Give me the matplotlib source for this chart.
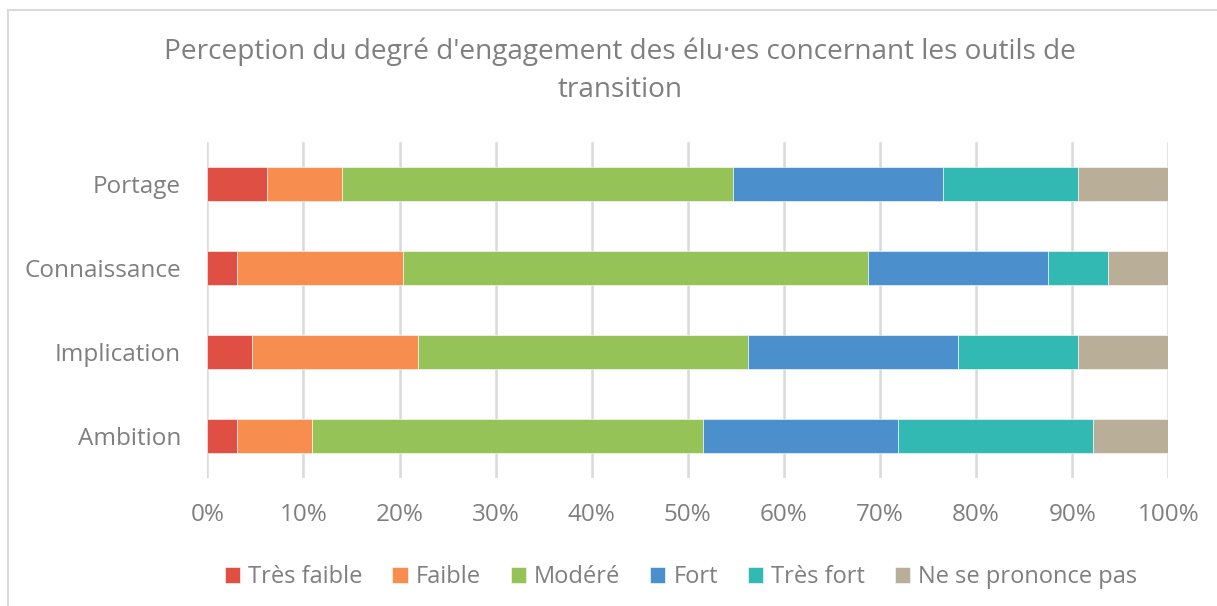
import matplotlib
matplotlib.use("Agg")
import matplotlib.pyplot as plt
from matplotlib.patches import Rectangle
from matplotlib.ticker import FuncFormatter

plt.rcParams['font.family'] = ['Open Sans', 'DejaVu Sans']

categories = ["Portage", "Connaissance", "Implication", "Ambition"]
series_names = ["Très faible", "Faible", "Modéré", "Fort", "Très fort", "Ne se prononce pas"]
tres_faible = [6.25, 3.13, 4.69, 3.13]
faible = [7.81, 17.19, 17.19, 7.81]
modere = [40.63, 48.44, 34.38, 40.63]
fort = [21.88, 18.75, 21.88, 20.31]
tres_fort = [14.06, 6.25, 12.50, 20.31]
nspp = [9.38, 6.25, 9.38, 7.81]
series_values = [tres_faible, faible, modere, fort, tres_fort, nspp]
colors = ["#E04F43", "#F78E4F", "#95C357", "#4B90CC", "#33B9B3", "#B9AE98"]
xticks = [0, 10, 20, 30, 40, 50, 60, 70, 80, 90, 100]

W, H = 1217, 606
fig = plt.figure(figsize=(W / 100, H / 100), dpi=100)
fig.patch.set_facecolor("white")

# chart border (left/top visible)
fig.add_artist(Rectangle((8 / W, -0.1), 1.2, (H - 10) / H + 0.1, transform=fig.transFigure,
                         fill=False, edgecolor="#d9d9d9", linewidth=1.5))

ax = fig.add_axes([207.3 / W, 1 - 478 / H, (1168.3 - 207.3) / W, (478 - 142) / H])
ypos = list(range(len(categories)))[::-1]
left = [0.0] * len(categories)
for name, vals, col in zip(series_names, series_values, colors):
    ax.barh(ypos, vals, left=left, height=0.4, color=col, label=name,
            edgecolor="white", linewidth=0.4, zorder=3)
    left = [l + v for l, v in zip(left, vals)]

ax.set_xlim(0, 100)
ax.set_ylim(-0.5, len(categories) - 0.5)
ax.set_xticks(xticks)
ax.xaxis.set_major_formatter(FuncFormatter(lambda v, p: f"{int(v)}%"))
ax.set_yticks(ypos)
ax.set_yticklabels(categories)
ax.grid(axis="x", color="#d9d9d9", linewidth=1.8, zorder=0)
ax.set_axisbelow(True)
for s in ax.spines.values():
    s.set_visible(False)
ax.tick_params(axis="x", length=0, pad=18, labelsize=17.5, labelcolor="#7f7f7f")
ax.tick_params(axis="y", length=0, pad=19, labelsize=17.5, labelcolor="#7f7f7f")

fig.text(620 / W, 1 - 52 / H, "Perception du degré d'engagement des élu·es concernant les outils de",
         ha="center", va="center", fontsize=20.2, color="#7f7f7f")
fig.text(620 / W, 1 - 90 / H, "transition",
         ha="center", va="center", fontsize=20.2, color="#7f7f7f")

leg = fig.legend(loc="center", bbox_to_anchor=(681 / W, 1 - 577 / H), ncol=6, frameon=False,
                 fontsize=17, handlelength=0.65, handleheight=0.65, handletextpad=0.35,
                 columnspacing=1.25, labelcolor="#7f7f7f")

fig.savefig("out.png", dpi=100, facecolor="white")
